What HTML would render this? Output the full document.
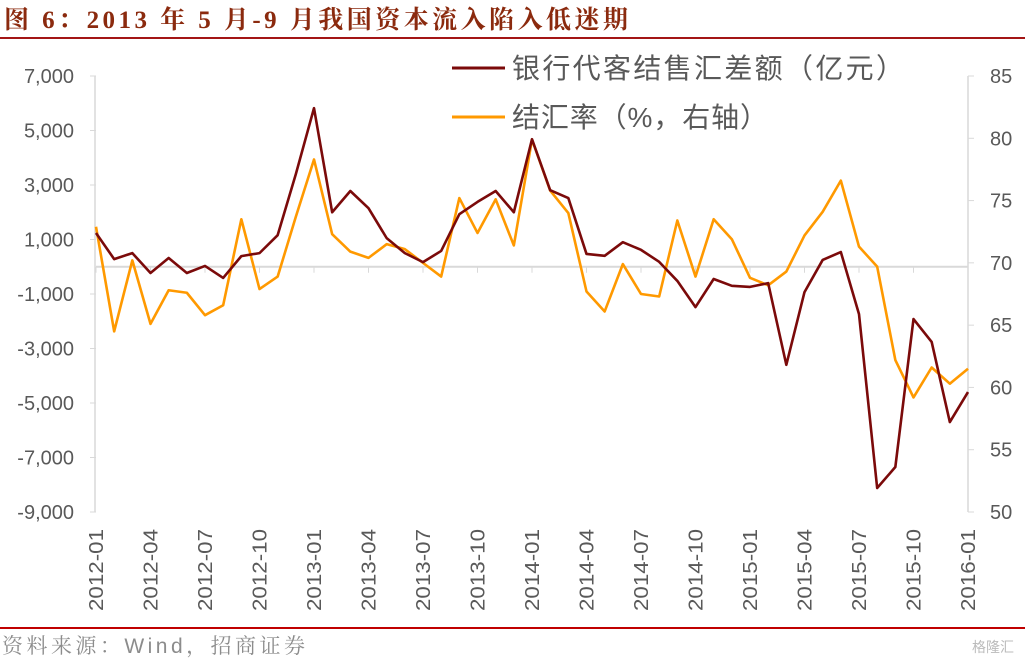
<!DOCTYPE html>
<html><head><meta charset="utf-8">
<style>
body{margin:0;background:#fff;width:1025px;height:662px;overflow:hidden;font-family:"Liberation Sans","Noto Sans CJK SC",sans-serif;}
</style></head>
<body>
<svg id="chart" width="1025" height="662" xmlns="http://www.w3.org/2000/svg">
<text x="4" y="28" font-size="25" font-weight="bold" fill="#8B2A0E" textLength="624" lengthAdjust="spacing" font-family="Liberation Serif,Noto Serif CJK SC,serif">图 6：2013 年 5 月-9 月我国资本流入陷入低迷期</text>
<line x1="0" y1="38" x2="1025" y2="38" stroke="#A31515" stroke-width="2"/>
<line x1="0" y1="628" x2="1025" y2="628" stroke="#C00000" stroke-width="2"/>
<text x="2" y="653" font-size="21" fill="#8c8c8c" textLength="303" lengthAdjust="spacing" font-family="Liberation Sans,Noto Serif CJK SC,serif">资料来源：Wind，招商证券</text>
<text x="972" y="652" font-size="14" fill="#bbb">格隆汇</text>
<g id="axes"></g>
<g id="series"></g>
<g>
<line x1="452" y1="68" x2="505" y2="68" stroke="#7B0A0A" stroke-width="3"/>
<text x="512" y="78" font-size="28" fill="#595959" textLength="392" lengthAdjust="spacing">银行代客结售汇差额（亿元）</text>
<line x1="452" y1="117" x2="505" y2="117" stroke="#FF9900" stroke-width="3"/>
<text x="512" y="127" font-size="28" fill="#595959" textLength="256" lengthAdjust="spacing">结汇率（%，右轴）</text>
</g>
</svg>
<script>
const balance=[1240,280,500,-230,320,-230,30,-410,390,500,1160,3400,5820,2000,2780,2150,1050,500,170,580,1930,2380,2780,2000,4680,2810,2520,470,400,900,620,180,-520,-1480,-450,-700,-740,-600,-3600,-930,250,540,-1740,-8120,-7350,-1920,-2760,-5700,-4600];
const ratio=[72.9,64.5,70.2,65.1,67.8,67.6,65.8,66.6,73.5,67.9,68.9,73.7,78.3,72.3,70.9,70.4,71.5,71.1,70.0,68.9,75.2,72.4,75.1,71.4,79.9,75.8,74.0,67.7,66.1,69.9,67.5,67.3,73.4,68.9,73.5,71.9,68.8,68.2,69.3,72.2,74.1,76.6,71.3,69.7,62.2,59.2,61.6,60.3,61.5];
const leftTicks=[7000,5000,3000,1000,-1000,-3000,-5000,-7000,-9000];
const rightTicks=[85,80,75,70,65,60,55,50];
const xLabels=["2012-01","2012-04","2012-07","2012-10","2013-01","2013-04","2013-07","2013-10","2014-01","2014-04","2014-07","2014-10","2015-01","2015-04","2015-07","2015-10","2016-01"];
const NS="http://www.w3.org/2000/svg";
const X0=96,X1=968,YT=76,YB=512;
const xs=i=>X0+(X1-X0)*i/48;
const yL=v=>YT+(7000-v)/16000*(YB-YT);
const yR=v=>YT+(85-v)/35*(YB-YT);
function mk(t,a,p){const e=document.createElementNS(NS,t);for(const k in a)e.setAttribute(k,a[k]);p.appendChild(e);return e;}
const ax=document.getElementById('axes');
let l=mk('line',{x1:X0-1,y1:YT,x2:X0-1,y2:YB,stroke:'#d9d9d9','stroke-width':1.5},ax);


l=mk('line',{x1:X1,y1:YT,x2:X1,y2:YB,stroke:'#d9d9d9','stroke-width':1.5},ax);


l=mk('line',{x1:X0,y1:yL(0),x2:X1,y2:yL(0),stroke:'#d9d9d9','stroke-width':2},ax);


leftTicks.forEach(v=>{
 const y=yL(v);
 mk('line',{x1:X0-6,y1:y,x2:X0,y2:y,stroke:'#d9d9d9'},ax);
 const t=mk('text',{x:X0-22,y:y+7,'text-anchor':'end','font-size':20,fill:'#595959'},ax);
 t.textContent=v.toLocaleString('en-US');
 
 
});
rightTicks.forEach(v=>{
 const y=yR(v);
 mk('line',{x1:X1,y1:y,x2:X1+6,y2:y,stroke:'#d9d9d9'},ax);
 const t=mk('text',{x:X1+22,y:y+7,'font-size':20,fill:'#595959'},ax);
 t.textContent=v;
 
 
});
xLabels.forEach((s,k)=>{
 const x=xs(k*3);
 mk('line',{x1:x,y1:yL(0),x2:x,y2:yL(0)+6,stroke:'#d9d9d9'},ax);
 const t=mk('text',{x:0,y:0,'text-anchor':'end','font-size':20,fill:'#595959',textLength:82,lengthAdjust:'spacingAndGlyphs',transform:`translate(${x+7},529) rotate(-90)`},ax);
 t.textContent=s;
 
 
});
const sg=document.getElementById('series');
let p=mk('polyline',{points:ratio.map((v,i)=>xs(i)+','+yR(v)).join(' '),fill:'none',stroke:'#FF9900','stroke-width':2.6,'stroke-linejoin':'round'},sg);


p=mk('polyline',{points:balance.map((v,i)=>xs(i)+','+yL(v)).join(' '),fill:'none',stroke:'#7B0A0A','stroke-width':2.6,'stroke-linejoin':'round'},sg);


</script>
</body></html>
